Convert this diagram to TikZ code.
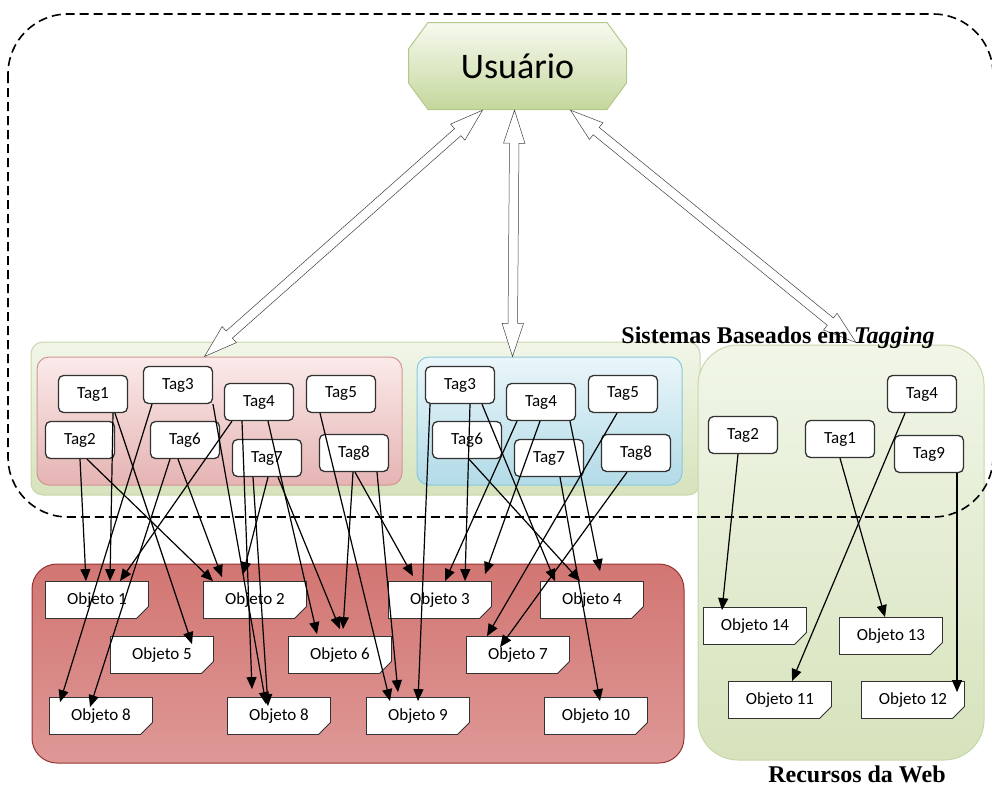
\documentclass[tikz,border=0pt]{standalone}
\usepackage{fontspec}
\setmainfont{Liberation Serif}
\newfontfamily\tagfont{Carlito}
\usepackage{tikz}
\usepackage{xcolor}
\usetikzlibrary{shapes.misc,shapes.arrows,arrows.meta,calc}
\definecolor{greenTop}{RGB}{241,246,232}
\definecolor{greenBottom}{RGB}{214,227,188}
\definecolor{greenEdge}{RGB}{200,214,172}
\definecolor{pinkTop}{RGB}{251,234,234}
\definecolor{pinkBottom}{RGB}{229,180,179}
\definecolor{pinkEdge}{RGB}{212,150,148}
\definecolor{blueTop}{RGB}{234,246,250}
\definecolor{blueBottom}{RGB}{178,219,231}
\definecolor{blueEdge}{RGB}{140,200,218}
\definecolor{redTop}{RGB}{210,118,115}
\definecolor{redMid}{RGB}{186,64,61}
\definecolor{redBottom}{RGB}{222,152,150}
\definecolor{boxEdge}{RGB}{50,50,50}
\definecolor{userTop}{RGB}{247,250,240}
\definecolor{userBottom}{RGB}{196,215,155}
\definecolor{userEdge}{RGB}{180,200,140}
\tikzstyle{tagbox}=[draw=boxEdge, line width=1.3pt, fill=white, rounded corners=5pt, minimum width=69pt, minimum height=37pt, font=\tagfont\fontsize{17}{19}\selectfont]
\tikzstyle{objnote}=[chamfered rectangle, chamfered rectangle corners=south east, chamfered rectangle xsep=7pt, chamfered rectangle ysep=5pt, draw=boxEdge, line width=0.8pt, fill=white, minimum width=103pt, minimum height=37pt, inner sep=0pt, font=\tagfont\fontsize{17}{19}\selectfont,
  path picture={\fill[gray!55] ([xshift=-8pt]path picture bounding box.south east) -- ([yshift=6pt]path picture bounding box.south east) -- ([xshift=-7pt,yshift=5pt]path picture bounding box.south east) -- cycle;}]
\tikzstyle{userbox}=[minimum width=219pt, minimum height=88pt, font=\tagfont\fontsize{36}{40}\selectfont,
  path picture={\shadedraw[top color=userTop, bottom color=userBottom, draw=userEdge, line width=1pt]
    ([xshift=20pt,yshift=-0.5pt]path picture bounding box.north west) -- ([xshift=-20pt,yshift=-0.5pt]path picture bounding box.north east)
    -- ([xshift=-0.5pt,yshift=-27pt]path picture bounding box.north east) -- ([xshift=-0.5pt,yshift=27pt]path picture bounding box.south east)
    -- ([xshift=-20pt,yshift=0.5pt]path picture bounding box.south east) -- ([xshift=20pt,yshift=0.5pt]path picture bounding box.south west)
    -- ([xshift=0.5pt,yshift=27pt]path picture bounding box.south west) -- ([xshift=0.5pt,yshift=-27pt]path picture bounding box.north west) -- cycle;}]
\tikzstyle{link}=[line width=1.2pt, -{Triangle[length=12pt,width=10pt]}]
\tikzstyle{userarrow}=[double arrow, draw=black!75, line width=0.5pt, fill=white, text height=9pt, text depth=0pt, double arrow head extend=6pt, double arrow tip angle=36, inner sep=0pt]
\tikzstyle{panel}=[rounded corners=12pt, line width=1pt]

\begin{document}
\begin{tikzpicture}[x=1pt,y=1pt]
		\useasboundingbox (0,0) rectangle (992,-787);
		% panels
		\node [panel, draw=greenEdge, top color=greenTop, bottom color=greenBottom, minimum width=669pt, minimum height=153pt] (tagPanel) at (365.5,-418.5) {};
		\node [panel, rounded corners=40pt, draw=greenEdge, top color=greenTop, bottom color=greenBottom, minimum width=286pt, minimum height=415pt] (webPanel) at (841,-552.5) {};
		\node [panel, rounded corners=25pt, draw=redMid!80!black, top color=redTop, middle color=redMid, bottom color=redBottom, minimum width=652pt, minimum height=199pt] (objPanel) at (358,-663.5) {};
		\node [panel, draw=pinkEdge, top color=pinkTop, bottom color=pinkBottom, minimum width=365pt, minimum height=128pt] (leftPanel) at (219.5,-421) {};
		\node [panel, draw=blueEdge, top color=blueTop, bottom color=blueBottom, minimum width=265pt, minimum height=128pt] (midPanel) at (549.5,-421) {};

		\draw [line width=1.6pt, dash pattern=on 9pt off 5pt, rounded corners=60pt] (8,-14) rectangle (993,-517);

		\node [userbox] (userNode) at (517.5,-66) {Usuário};

		\path let \p1=([xshift=-35pt]userNode.south), \p2=([xshift=-15pt]leftPanel.north), \n1={veclen(\x2-\x1,\y2-\y1)} in (\p1) -- (\p2) node [midway, sloped, userarrow, minimum height=\n1] {};
		\path let \p1=([xshift=-3pt]userNode.south), \p2=([xshift=-37pt]midPanel.north), \n1={veclen(\x2-\x1,\y2-\y1)} in (\p1) -- (\p2) node [midway, sloped, userarrow, minimum height=\n1] {};
		\path let \p1=([xshift=53pt]userNode.south), \p2=([xshift=15pt,yshift=2pt]webPanel.north), \n1={veclen(\x2-\x1,\y2-\y1)} in (\p1) -- (\p2) node [midway, sloped, userarrow, minimum height=\n1] {};

		\node [font=\bfseries\fontsize{24}{28}\selectfont] (tagCaption) at (778,-338) {Sistemas Baseados em \textit{Tagging}};
		\node [font=\bfseries\fontsize{24}{28}\selectfont] (webCaption) at (857,-774) {Recursos da Web};

		\begin{scope}[shift={(0,0)}]
			\node [tagbox] (leftTag1) at (93,-394) {Tag1};
			\node [tagbox] (leftTag2) at (80,-440) {Tag2};
			\node [tagbox] (leftTag3) at (178,-385) {Tag3};
			\node [tagbox] (leftTag4) at (259,-402) {Tag4};
			\node [tagbox] (leftTag5) at (341,-394) {Tag5};
			\node [tagbox] (leftTag6) at (185,-440) {Tag6};
			\node [tagbox] (leftTag7) at (267,-458) {Tag7};
			\node [tagbox] (leftTag8) at (354,-453) {Tag8};
		\end{scope}
		\begin{scope}[shift={(282,0)}]
			\node [tagbox] (midTag3) at (178,-385) {Tag3};
			\node [tagbox] (midTag4) at (259,-402) {Tag4};
			\node [tagbox] (midTag5) at (341,-394) {Tag5};
			\node [tagbox] (midTag6) at (185,-440) {Tag6};
			\node [tagbox] (midTag7) at (267,-458) {Tag7};
			\node [tagbox] (midTag8) at (354,-453) {Tag8};
		\end{scope}
		\node [tagbox] (webTag2) at (743,-435) {Tag2};
		\node [tagbox] (webTag1) at (840,-439) {Tag1};
		\node [tagbox] (webTag4) at (922,-394) {Tag4};
		\node [tagbox] (webTag9) at (929,-454) {Tag9};

		\node [objnote] (obj1) at (97,-600) {Objeto 1};
		\node [objnote] (obj2) at (255,-600) {Objeto 2};
		\node [objnote] (obj3) at (440,-600) {Objeto 3};
		\node [objnote] (obj4) at (592,-600) {Objeto 4};
		\node [objnote] (obj5) at (162,-655) {Objeto 5};
		\node [objnote] (obj6) at (340,-655) {Objeto 6};
		\node [objnote] (obj7) at (518,-655) {Objeto 7};
		\node [objnote] (obj8a) at (101,-716) {Objeto 8};
		\node [objnote] (obj8b) at (279,-716) {Objeto 8};
		\node [objnote] (obj9) at (418,-716) {Objeto 9};
		\node [objnote] (obj10) at (596,-716) {Objeto 10};
		\node [objnote] (obj14) at (755,-626) {Objeto 14};
		\node [objnote] (obj13) at (891,-636) {Objeto 13};
		\node [objnote] (obj11) at (780,-700) {Objeto 11};
		\node [objnote] (obj12) at (913,-700) {Objeto 12};

		\draw [link] ([xshift=20pt]leftTag1.south) -- ([xshift=13pt]obj1.north);
		\draw [link] ([xshift=22pt]leftTag1.south) -- ([xshift=30pt,yshift=-8pt]obj5.north);
		\draw [link] (leftTag2.south) -- ([xshift=-11pt]obj1.north);
		\draw [link] ([xshift=7pt]leftTag2.south) -- ([xshift=-42pt]obj2.north);
		\draw [link] ([xshift=-26pt]leftTag3.south) -- ([xshift=-41pt,yshift=-5pt]obj8a.north);
		\draw [link] ([xshift=35pt]leftTag3.south) -- ([xshift=-13pt,yshift=-7pt]obj8b.north);
		\draw [link] ([xshift=-27pt]leftTag4.south) -- ([xshift=23pt]obj1.north);
		\draw [link] ([xshift=-17pt]leftTag4.south) -- ([xshift=-27pt,yshift=8pt]obj8b.north);
		\draw [link] ([xshift=9pt]leftTag4.south) -- ([xshift=-23pt,yshift=2pt]obj6.north);
		\draw [link] ([xshift=-21pt]leftTag5.south) -- ([xshift=-28pt,yshift=-4pt]obj9.north);
		\draw [link] ([xshift=-15pt]leftTag6.south) -- ([xshift=-11pt,yshift=-10pt]obj8a.north);
		\draw [link] ([xshift=-7pt]leftTag6.south) -- ([xshift=-33pt,yshift=4pt]obj2.north);
		\draw [link] ([xshift=1pt]leftTag7.south) -- ([xshift=-12pt,yshift=7pt]obj2.north);
		\draw [link] ([xshift=-14pt]leftTag7.south) -- ([xshift=-11pt,yshift=-9pt]obj8b.north);
		\draw [link] ([xshift=11pt]leftTag7.south) -- ([yshift=7pt]obj6.north);
		\draw [link] ([xshift=-1pt]leftTag8.south) -- ([xshift=3pt,yshift=7pt]obj6.north);
		\draw [link] ([xshift=1pt]leftTag8.south) -- ([xshift=-27pt,yshift=5pt]obj3.north);
		\draw [link] ([xshift=23pt]leftTag8.south) -- ([xshift=-20pt,yshift=5pt]obj9.north);

		\draw [link] ([xshift=-30pt]midTag3.south) -- ([yshift=-4pt]obj9.north);
		\draw [link] ([xshift=10pt]midTag3.south) -- ([xshift=25pt]obj3.north);
		\draw [link] ([xshift=22pt]midTag3.south) -- ([xshift=-37pt]obj4.north);
		\draw [link] ([xshift=2pt]midTag6.south) -- ([xshift=-12pt]obj4.north);
		\draw [link] ([xshift=-24pt]midTag4.south) -- ([xshift=5pt]obj3.north);
		\draw [link] ([xshift=-1pt]midTag4.south) -- ([xshift=45pt,yshift=7pt]obj3.north);
		\draw [link] ([xshift=29pt]midTag4.south) -- ([xshift=8pt,yshift=10pt]obj4.north);
		\draw [link] ([xshift=-6pt]midTag5.south) -- ([xshift=-31pt]obj7.north);
		\draw [link] ([xshift=-9pt]midTag8.south) -- ([xshift=-18pt,yshift=-11pt]obj7.north);
		\draw [link] ([xshift=11pt]midTag7.south) -- ([xshift=4pt,yshift=-4pt]obj10.north);

		\draw [link] ([xshift=-5pt]webTag2.south) -- ([xshift=-33pt,yshift=-3pt]obj14.north);
		\draw [link] (webTag1.south) -- ([xshift=-6pt]obj13.north);
		\draw [link] ([xshift=-17pt]webTag4.south) -- ([xshift=12pt]obj11.north);
		\draw [link] ([xshift=28pt]webTag9.south) -- ([xshift=44pt,yshift=-11pt]obj12.north);
	\end{tikzpicture}
\end{document}
